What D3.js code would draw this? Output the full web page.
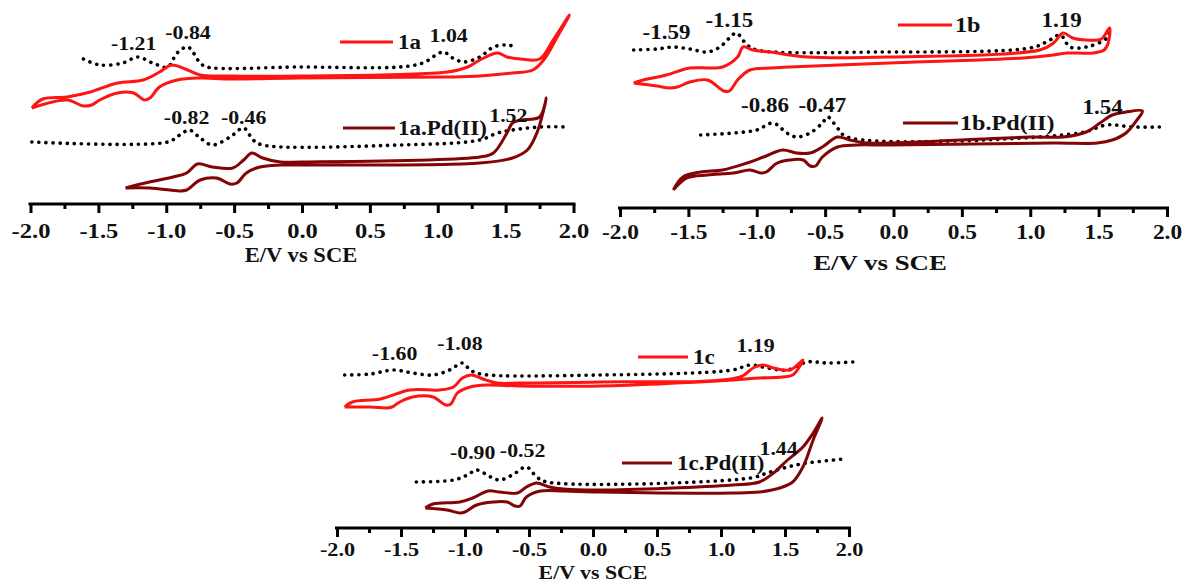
<!DOCTYPE html>
<html lang="en">
<head>
<meta charset="utf-8"/>
<title>CV / DPV of 1a-1c and Pd(II) complexes</title>
<script src="https://d3js.org/d3.v7.min.js"></script>
<style>
  body { margin: 0; background: #fff; }
  svg text { font-family: "Liberation Serif", "Times New Roman", serif; fill: #111; }
  .axis .domain, .axis line { stroke: #000; stroke-width: 3; }
  .cv { fill: none; stroke-width: 3; stroke-linejoin: round; }
  .dpv { fill: none; stroke: #000; stroke-width: 3.6; stroke-linecap: round; stroke-dasharray: 0.1 7; }
</style>
</head>
<body>
<div id="chart"></div>
<script>
// potentials in V vs SCE, currents in arbitrary units (offset per trace)
var majorTicks = [-2.0, -1.5, -1.0, -0.5, 0.0, 0.5, 1.0, 1.5, 2.0];
var minorTicks = [-1.75, -1.25, -0.75, -0.25, 0.25, 0.75, 1.25, 1.75];

// ---- panel 1a ----
var cv1a = [[-1.99,96],[-1.91,105],[-1.73,107],[-1.56,112],[-1.36,121],[-1.17,124],[-1.05,132],[-0.96,139],
  [-0.86,135],[-0.75,129],[-0.53,128],[-0.01,128],[1.07,132],[1.22,137],[1.31,144],[1.44,151],[1.51,147],
  [1.61,145],[1.75,145],[1.85,164],[1.97,189],[1.88,167],[1.78,144],[1.70,134],[1.55,131],[1.31,128],
  [1.07,127],[-0.01,126],[-0.53,125],[-0.75,126],[-0.92,124],[-1.05,117],[-1.12,106],[-1.16,104],[-1.24,111],
  [-1.36,111],[-1.49,104],[-1.55,99],[-1.61,98],[-1.73,104],[-1.99,96]];
var dpv1a = [[-1.61,145],[-1.49,139],[-1.32,141],[-1.21,147],[-1.10,141],[-0.99,137],[-0.92,151],[-0.84,157],
  [-0.75,141],[-0.70,137],[-0.01,137],[0.72,137],[0.89,141],[1.04,152],[1.11,146],[1.19,142],[1.31,147],
  [1.41,157],[1.51,159],[1.58,157]];
var cv1aPd = [[-1.30,16],[-1.19,20],[-0.95,27],[-0.85,31],[-0.77,40],[-0.66,37],[-0.51,36],[-0.43,44],
  [-0.37,51],[-0.29,46],[-0.16,42],[-0.01,42],[1.31,47],[1.41,51],[1.51,71],[1.55,81],[1.61,84],[1.75,87],
  [1.80,106],[1.78,94],[1.73,71],[1.66,54],[1.55,46],[1.31,41],[-0.01,39],[-0.16,39],[-0.31,37],[-0.41,31],
  [-0.48,21],[-0.53,20],[-0.63,26],[-0.75,24],[-0.85,14],[-0.90,13],[-1.12,16],[-1.30,16]];
var dpv1aPd = [[-1.99,62],[-0.99,62],[-0.90,69],[-0.83,74],[-0.75,66],[-0.66,59],[-0.53,67],[-0.43,76],
  [-0.36,64],[-0.29,59],[0.72,59],[1.31,64],[1.44,71],[1.55,74],[1.75,77],[1.95,77]];
var peaks1a = [["-1.21",-1.24,161],["-0.84",-0.84,172],["1.04",1.08,169],["-0.82",-0.85,87],["-0.46",-0.43,87],["1.52",1.52,89]];

// ---- panel 1b ----
var cv1b = [[-1.90,125],[-1.83,128],[-1.66,133],[-1.49,140],[-1.34,140],[-1.25,141],[-1.14,151],[-1.10,161],
  [-1.03,158],[-0.90,156],[-0.76,153],[-0.63,151],[-0.03,151],[1.07,158],[1.17,165],[1.24,175],[1.31,170],
  [1.41,168],[1.52,169],[1.58,180],[1.57,165],[1.54,158],[1.46,155],[1.27,155],[1.17,153],[0.95,150],[0.63,148],
  [-0.03,145],[-0.76,141],[-0.90,140],[-1.05,138],[-1.14,128],[-1.20,117],[-1.24,117],[-1.36,128],[-1.49,126],
  [-1.58,121],[-1.64,120],[-1.73,122],[-1.90,125]];
var dpv1b = [[-1.90,158],[-1.73,159],[-1.61,161],[-1.49,159],[-1.36,156],[-1.27,161],[-1.20,170],[-1.15,175],
  [-1.07,163],[-1.00,158],[-0.10,156],[1.00,160],[1.12,166],[1.22,173],[1.29,161],[1.41,161],[1.56,170],[1.58,180]];
var cv1bPd = [[-1.61,18],[-1.54,31],[-1.41,36],[-1.25,38],[-1.07,45],[-0.95,51],[-0.81,58],[-0.71,55],
  [-0.61,55],[-0.52,61],[-0.41,71],[-0.32,68],[-0.19,65],[-0.03,65],[1.00,71],[1.24,71],[1.41,76],[1.51,85],
  [1.60,93],[1.70,96],[1.82,97],[1.78,88],[1.70,75],[1.60,68],[1.49,65],[1.17,65],[-0.03,63],[-0.27,63],
  [-0.41,61],[-0.52,51],[-0.57,42],[-0.61,42],[-0.66,48],[-0.76,48],[-0.85,45],[-0.93,36],[-0.97,35],[-1.05,38],[-1.17,35],
  [-1.36,33],[-1.51,30],[-1.61,18]];
var dpv1bPd = [[-1.41,73],[-1.17,75],[-1.00,78],[-0.88,85],[-0.78,75],[-0.71,71],[-0.61,75],[-0.52,85],
  [-0.48,91],[-0.41,80],[-0.34,71],[1.36,75],[1.56,83],[1.75,81],[1.97,81]];
var peaks1b = [["-1.59",-1.66,176],["-1.15",-1.20,188],["1.19",1.23,188],["-0.86",-0.94,103],["-0.47",-0.52,103],["1.54",1.53,101]];

// ---- panel 1c ----
var cv1c = [[-1.94,121],[-1.88,126],[-1.66,129],[-1.43,138],[-1.20,138],[-1.09,141],[-1.02,150],[-0.95,153],
  [-0.86,149],[-0.75,145],[-0.57,145],[0.05,146],[1.15,151],[1.25,160],[1.33,163],[1.41,160],[1.54,158],
  [1.64,168],[1.56,153],[1.48,151],[1.30,150],[1.09,148],[0.05,142],[-0.57,142],[-0.83,143],[-0.96,141],
  [-1.06,135],[-1.11,124],[-1.15,123],[-1.25,131],[-1.41,131],[-1.51,126],[-1.57,121],[-1.61,120],[-1.74,121],[-1.94,121]];
var dpv1c = [[-1.94,153],[-1.74,154],[-1.56,158],[-1.41,155],[-1.25,153],[-1.12,158],[-1.02,165],[-0.96,158],
  [-0.88,154],[0.05,153],[1.09,158],[1.23,163],[1.36,160],[1.52,158],[1.67,166],[1.83,165],[2.03,166]];
var cv1cPd = [[-1.31,20],[-1.25,24],[-1.04,26],[-0.94,30],[-0.82,37],[-0.73,36],[-0.59,35],[-0.52,41],
  [-0.44,45],[-0.34,41],[-0.23,39],[0.05,38],[1.09,43],[1.30,46],[1.41,55],[1.52,68],[1.64,81],[1.72,95],
  [1.79,110],[1.72,88],[1.64,61],[1.56,46],[1.46,40],[1.30,36],[1.09,35],[0.05,36],[-0.23,37],[-0.41,37],
  [-0.52,31],[-0.57,22],[-0.61,22],[-0.67,26],[-0.78,26],[-0.91,23],[-1.00,16],[-1.04,15],[-1.14,18],[-1.31,20]];
var dpv1cPd = [[-1.38,46],[-1.09,48],[-0.98,53],[-0.91,58],[-0.80,51],[-0.73,48],[-0.63,53],[-0.52,61],
  [-0.44,51],[-0.36,46],[1.23,50],[1.36,55],[1.52,61],[1.67,65],[1.88,68],[1.95,69]];
var peaks1c = [["-1.60",-1.55,175],["-1.08",-1.04,185],["1.19",1.27,183],["-0.90",-0.94,76],["-0.52",-0.55,78],["1.44",1.45,80]];

var red = "#ff1414", darkRed = "#820404";

// layout of the three panels (pixels)
var panels = [
  { x: [30.5, 573.5], axisY: 204, tickY: 27, tickFont: 21, titleX: 301, titleY: 255, titleFont: 20, titleSx: 1.13,
    peakFont: 19, legFont: 20,
    cv: cv1a, dpv: dpv1a, cvPd: cv1aPd, dpvPd: dpv1aPd, peaks: peaks1a, names: ["1a", "1a.Pd(II)"],
    leg: [[340, 393, 42, 398], [343, 395, 128, 398]] },
  { x: [620, 1167], axisY: 208, tickY: 24, tickFont: 20, titleX: 880, titleY: 262, titleFont: 22, titleSx: 1.22,
    peakFont: 20, legFont: 21,
    cv: cv1b, dpv: dpv1b, cvPd: cv1bPd, dpvPd: dpv1bPd, peaks: peaks1b, names: ["1b", "1b.Pd(II)"],
    leg: [[898, 952, 25, 955], [903, 958, 123, 960]] },
  { x: [337, 849], axisY: 528, tickY: 21, tickFont: 19, titleX: 593, titleY: 572, titleFont: 19, titleSx: 1.15,
    peakFont: 19, legFont: 20,
    cv: cv1c, dpv: dpv1c, cvPd: cv1cPd, dpvPd: dpv1cPd, peaks: peaks1c, names: ["1c", "1c.Pd(II)"],
    leg: [[638, 688, 357, 693], [622, 672, 463, 677]] }
];

var svg = d3.select("#chart").append("svg")
  .attr("width", 1187)
  .attr("height", 582);

// text drawn a bit wider than the font, like the stretched original
function stretched(g, x, y, txt, size, weight, anchor, sx) {
  return g.append("text")
    .attr("transform", "translate(" + x + "," + y + ") scale(" + sx + ",1)")
    .attr("text-anchor", anchor)
    .attr("dy", "0.35em")
    .attr("font-size", size)
    .attr("font-weight", weight)
    .text(txt);
}

panels.forEach(function(p) {
  var x = d3.scaleLinear().domain([-2, 2]).range(p.x);
  var y = d3.scaleLinear().domain([0, 200]).range([p.axisY, p.axisY - 200]);
  var g = svg.append("g");

  var line = d3.line()
    .x(function(d) { return x(d[0]); })
    .y(function(d) { return y(d[1]); })
    .curve(d3.curveCatmullRom.alpha(0.5));

  // minor ticks first, then major axis
  g.append("g")
    .attr("class", "axis")
    .attr("transform", "translate(0," + p.axisY + ")")
    .call(d3.axisBottom(x).tickValues(minorTicks).tickSize(5).tickSizeOuter(0).tickFormat(""))
    .select(".domain").remove();

  var ax = g.append("g")
    .attr("class", "axis")
    .attr("transform", "translate(0," + p.axisY + ")")
    .call(d3.axisBottom(x).tickValues(majorTicks).tickSize(9).tickSizeOuter(0)
      .tickFormat(function(d) { return d.toFixed(1); }));
  ax.select(".domain").attr("d", "M" + (p.x[0] - 2) + ",0H" + (p.x[1] + 2));
  ax.selectAll("text")
    .attr("y", p.tickY)
    .attr("dy", "0.35em")
    .attr("font-size", p.tickFont)
    .attr("font-weight", "bold")
    .attr("fill", "#111")
    .attr("transform", "scale(1.17,1)");

  stretched(g, p.titleX, p.titleY, "E/V vs SCE", p.titleFont, "bold", "middle", p.titleSx);

  // traces
  g.append("path").datum(p.dpv).attr("class", "dpv").attr("d", line);
  g.append("path").datum(p.cv).attr("class", "cv").attr("stroke", red).attr("d", line);
  g.append("path").datum(p.dpvPd).attr("class", "dpv").attr("d", line);
  g.append("path").datum(p.cvPd).attr("class", "cv").attr("stroke", darkRed).attr("d", line);

  // legend
  [red, darkRed].forEach(function(c, i) {
    var l = p.leg[i];
    g.append("line")
      .attr("x1", l[0]).attr("x2", l[1])
      .attr("y1", l[2]).attr("y2", l[2])
      .attr("stroke", c).attr("stroke-width", 3);
    stretched(g, l[3], l[2], p.names[i], p.legFont, "bold", "start", 1.15);
  });

  // peak potentials
  p.peaks.forEach(function(d) {
    stretched(g, x(d[1]), y(d[2]), d[0], p.peakFont, "bold", "middle", 1.15);
  });
});
</script>
</body>
</html>
